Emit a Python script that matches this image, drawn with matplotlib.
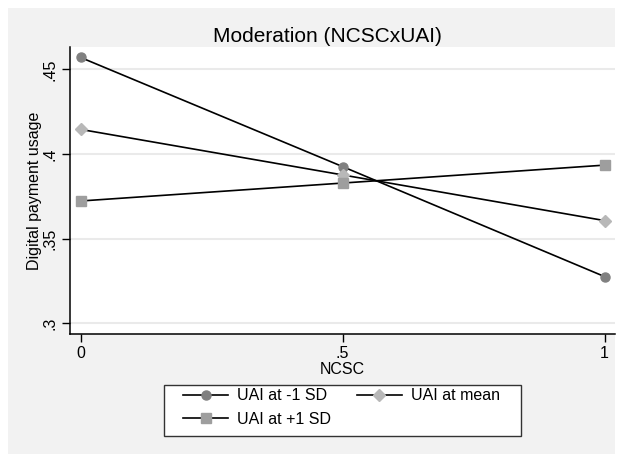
import numpy as np
import matplotlib.pyplot as plt
from matplotlib.patches import Rectangle

plt.rcParams['font.family'] = ['Liberation Sans', 'DejaVu Sans']

# data
ncsc = [0, 0.5, 1]
uai_low = [0.457, 0.3925, 0.3275]
uai_mean = [0.4145, 0.3876, 0.3606]
uai_high = [0.3722, 0.3828, 0.3934]
series_labels = ['UAI at -1 SD', 'UAI at mean', 'UAI at +1 SD']
xticks = [0, 0.5, 1]
xtick_labels = ['0', '.5', '1']
yticks = [0.3, 0.35, 0.4, 0.45]
ytick_labels = ['.3', '.35', '.4', '.45']

W, H = 624, 454
fig = plt.figure(figsize=(W / 100, H / 100), dpi=100)
fig.patch.set_facecolor('white')


def px(x0, y0, x1, y1):
    # pixel box (top-left origin) -> figure fractions
    return (x0 / W, 1 - y1 / H, (x1 - x0) / W, (y1 - y0) / H)


# gray graph region
l, b, w, h = px(8, 8, 615, 454)
fig.patches.append(Rectangle((l, b), w, h, transform=fig.transFigure,
                             facecolor='#f2f2f2', edgecolor='none', zorder=-5))

ax = fig.add_axes(px(70, 47, 615, 334))
ax.set_facecolor('white')
ax.set_zorder(1)

l1, = ax.plot(ncsc, uai_low, color='black', lw=1.2, marker='o', ms=6.5,
              mfc='#808080', mec='#808080', label=series_labels[0], zorder=3)
l2, = ax.plot(ncsc, uai_mean, color='black', lw=1.2, marker='D', ms=6.0,
              mfc='#b8b8b8', mec='#b8b8b8', label=series_labels[1], zorder=3)
l3, = ax.plot(ncsc, uai_high, color='black', lw=1.2, marker='s', ms=6.5,
              mfc='#9e9e9e', mec='#9e9e9e', label=series_labels[2], zorder=3)

ax.set_xlim(-0.0204, 1.0197)
ax.set_ylim(0.2936, 0.4632)

ax.set_xticks(xticks)
ax.set_xticklabels(xtick_labels)
ax.set_yticks(yticks)
ax.set_yticklabels(ytick_labels, rotation=90, va='center')
ax.tick_params(axis='both', direction='out', length=6, width=1,
               labelsize=11.5, pad=3, colors='black')

ax.grid(axis='y', color='#eaeaea', lw=1.5)
ax.set_axisbelow(True)

for s in ['top', 'right']:
    ax.spines[s].set_visible(False)
for s in ['left', 'bottom']:
    ax.spines[s].set_linewidth(1.1)

ax.set_xlabel('NCSC', fontsize=11.5, labelpad=0)
ax.set_ylabel('Digital payment usage', fontsize=11.5)
ax.yaxis.set_label_coords(-35 / 545, 0.5)
ax.yaxis.label.set_va('center')

fig.text(327 / W, 1 - 36 / H, 'Moderation (NCSCxUAI)', fontsize=15,
         ha='center', va='center')

# legend box
l, b, w, h = px(164, 385, 521, 436)
fig.patches.append(Rectangle((l, b), w, h, transform=fig.transFigure,
                             facecolor='white', edgecolor='#333333', lw=1,
                             zorder=2))
# row-wise order like the original: -1 SD, mean / +1 SD
fig.legend([l1, l3, l2],
           [series_labels[0], series_labels[2], series_labels[1]],
           loc='upper left',
           bbox_to_anchor=(180 / W, 1 - 385 / H), ncol=2, frameon=False,
           fontsize=11.5, handlelength=2.8, handletextpad=0.6,
           columnspacing=1.6, labelspacing=0.55, borderpad=0.2,
           borderaxespad=0).set_zorder(3)

fig.savefig('out.png', dpi=100)
